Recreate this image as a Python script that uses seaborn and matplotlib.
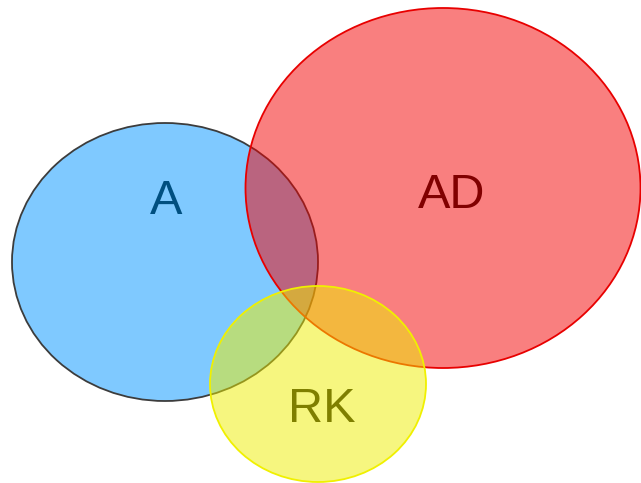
import matplotlib.pyplot as plt
import seaborn as sns
from matplotlib.patches import Ellipse

# Venn sets (pixel space of the original picture)
set_names = ["A", "AD", "RK"]
centers_x = [165, 443, 318]
centers_y = [262, 188, 384]
widths = [306, 395, 216]
heights = [278, 360, 196]
fill_colors = ["#0095FF", "#F50000", "#EFEF00"]
edge_colors = ["#3C3C3C", "#E80000", "#F0F000"]
label_x = [166, 452, 322]
label_y = [201, 196, 410]
label_colors = ["#004F80", "#800000", "#7F7F00"]

sns.set_theme(style="white")
plt.rcParams["font.family"] = ["Liberation Sans", "DejaVu Sans"]

fig = plt.figure(figsize=(6.41, 4.83), dpi=100)
ax = fig.add_axes([0, 0, 1, 1])
ax.set_xlim(0, 641)
ax.set_ylim(483, 0)
ax.set_aspect("equal")
ax.axis("off")

for i, name in enumerate(set_names):
    ax.add_patch(Ellipse((centers_x[i], centers_y[i]), widths[i], heights[i],
                         facecolor=fill_colors[i], alpha=0.5, edgecolor="none"))
    ax.add_patch(Ellipse((centers_x[i], centers_y[i]), widths[i], heights[i],
                         facecolor="none", edgecolor=edge_colors[i], linewidth=1.3))
    ax.text(label_x[i], label_y[i], name, color=label_colors[i], fontsize=35,
            ha="center", va="center")

fig.savefig("out.png", dpi=100)
